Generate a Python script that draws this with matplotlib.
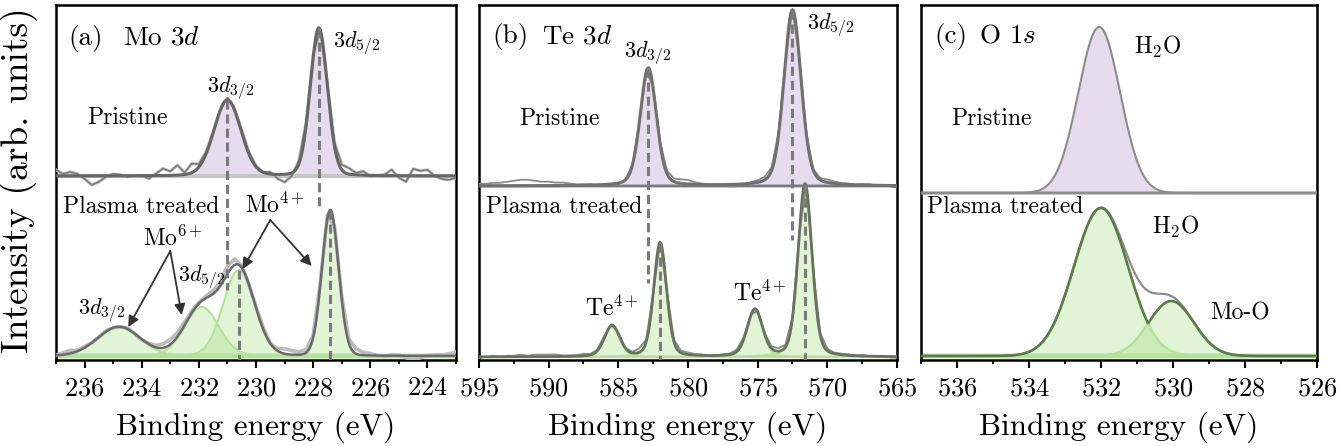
import numpy as np
import matplotlib
matplotlib.use("Agg")
import matplotlib.pyplot as plt
from matplotlib.ticker import MultipleLocator

plt.rcParams['font.family'] = 'serif'
plt.rcParams['font.serif'] = ['cmr10']
plt.rcParams['mathtext.fontset'] = 'cm'
plt.rcParams['axes.formatter.use_mathtext'] = True
plt.rcParams['axes.unicode_minus'] = False

# ---------------- data (peak fits) ----------------
# (a) Mo 3d
mo_xlim = (237, 223)
mo_pris_base = 184
mo_pris_centers = [231.0, 227.8]
mo_pris_heights = [76, 148]
mo_pris_sigmas = [0.47, 0.30]
mo_treat_base = 4
mo_treat_centers = [234.8, 231.9, 230.6, 227.4]
mo_treat_heights = [29, 49, 86, 146]
mo_treat_sigmas = [0.75, 0.60, 0.55, 0.29]
mo_raw_step = 0.25
mo_pris_resid = [6, 2, 4, 2, -3, -9, -6, -1, 2, 1, -1, 0, 0, -3, 2, 7, 4, 10, 2, 9,
                 3, 2, 1, 0, 2, 1, 3, 2, 1, 0, 2, -4, -8, -3, 3, 4, 3, 0, 2, 4,
                 5, 6, 2, 4, -1, 0, 1, 6, -2, -6, 7, 5, 6, 0, -3, -4, -2]
mo_treat_resid = [0, 2, 3, 1, 1, 0, 0, 1, 0, 0, 1, 0, -1, 1, 2, 4, 5, 4, 3, 2,
                  1, 2, 3, 4, 8, 6, 2, 0, 1, 2, 0, 2, 5, 4, 3, 3, 2, 3, 3, 2,
                  3, 4, 5, 3, 2, 0, -1, 1, 1, -2, -4, -2, 0, 1, 1, 2, 4]

# (b) Te 3d
te_xlim = (595, 565)
te_pris_base = 174
te_pris_centers = [582.85, 572.5]
te_pris_heights = [118, 176]
te_pris_sigmas = [0.58, 0.62]
te_treat_base = 3
te_treat_centers = [585.45, 582.0, 575.2, 571.6]
te_treat_heights = [31, 114, 47, 173]
te_treat_sigmas = [0.55, 0.46, 0.55, 0.50]
te_raw_step = 0.5
te_pris_resid = [2, 2, 3, 3, 4, 5, 6, 6, 5, 4, 4, 3, 3, 2, 1, 1, 1, 0, 0, -1,
                 -1, 0, 1, 0, 1, 2, 2, 3, 3, 4, 4, 2, 1, 0, 0, -1, -2, -2, -1, 1,
                 2, 3, 3, 2, 1, 1, 2, 1, 1, 2, 3, 2, 1, 1, 0, 1, 1, 0, 0, -1, -2]
te_treat_resid = [-1, 0, 1, 0, 1, 1, 2, 1, 2, 2, 2, 2, 1, 1, 1, 2, 1, 1, 2, 1,
                  1, 0, 1, 4, 2, 0, 1, 1, 2, 2, 2, 1, 1, 0, 0, 1, 1, 2, 2, 1,
                  1, 1, 2, 3, 2, 1, 1, 2, 1, 2, 2, 1, 1, 1, 0, 1, 0, 0, 0, -1, -1]

# (c) O 1s
o_xlim = (537, 526)
o_pris_base = 167
o_pris_centers = [532.05]
o_pris_heights = [166]
o_pris_sigmas = [0.58]
o_treat_base = 4
o_treat_centers = [532.0, 530.05]
o_treat_heights = [148, 55]
o_treat_sigmas = [0.75, 0.63]

# colours
purple_fill = '#e6dcee'
purple_edge = '#cbb8da'
green_fill = (0.62, 0.86, 0.48, 0.30)
green_edge = '#b6e19c'
dash_col = '#7b7b7b'


def peak(E, c, h, s, eta=0.0):
    g = np.exp(-(E - c) ** 2 / (2 * s ** 2))
    l = 1.0 / (1.0 + ((E - c) / (1.1774 * s)) ** 2)
    return h * ((1 - eta) * g + eta * l)


def components(E, centers, heights, sigmas, eta):
    return [peak(E, c, h, s, eta) for c, h, s in zip(centers, heights, sigmas)]


def draw_comps(ax, E, comps, base, fill, edge, lw=1.5):
    for comp in comps:
        ax.fill_between(E, base, base + comp, color=fill, lw=0, zorder=1)
        ax.plot(E, base + comp, color=edge, lw=lw, zorder=2)


def dash(ax, x, y0, y1, lw=2.2):
    ax.plot([x, x], [y0, y1], color=dash_col, lw=lw, ls=(0, (3, 1.6)), zorder=6)


def style(ax, xlim, major, minor):
    ax.set_xlim(*xlim)
    ax.set_ylim(0, 355)
    ax.set_yticks([])
    ax.xaxis.set_major_locator(MultipleLocator(major))
    ax.xaxis.set_minor_locator(MultipleLocator(minor))
    ax.tick_params(axis='x', which='major', direction='out', length=6, width=1.5,
                   labelsize=19, pad=6)
    ax.tick_params(axis='x', which='minor', direction='out', length=3, width=1.3)
    for sp in ax.spines.values():
        sp.set_linewidth(1.8)
    ax.set_xlabel('Binding energy (eV)', fontsize=22.5, labelpad=8)


fig = plt.figure(figsize=(13.42, 4.46), dpi=100)
H = 446.0
W = 1342.0
bot = (H - 360) / H
hgt = 355 / H
axa = fig.add_axes([56 / W, bot, 400 / W, hgt])
axb = fig.add_axes([479 / W, bot, 418 / W, hgt])
axc = fig.add_axes([921 / W, bot, 396 / W, hgt])

fs = 17
fs_d = 16
fs_p = 19.5

# ---------------- (a) Mo 3d ----------------
ax = axa
E = np.linspace(mo_xlim[0], mo_xlim[1], 1400)
pc = components(E, mo_pris_centers, mo_pris_heights, mo_pris_sigmas, 0.1)
draw_comps(ax, E, pc, mo_pris_base, purple_fill, purple_edge)
ax.plot(E, np.full_like(E, mo_pris_base), color='#c6c6c6', lw=3, zorder=2)
Er = mo_xlim[0] - mo_raw_step * np.arange(len(mo_pris_resid))
raw = mo_pris_base + sum(components(Er, mo_pris_centers, mo_pris_heights, mo_pris_sigmas, 0.1)) + np.array(mo_pris_resid)
ax.plot(Er, raw, color='#bdbdbd', lw=2.2, zorder=3)
ax.plot(Er, raw, color='#7a7a7a', lw=1.1, zorder=3)
ax.plot(E, mo_pris_base + sum(pc), color='#666666', lw=2.2, zorder=4)

tc = components(E, mo_treat_centers, mo_treat_heights, mo_treat_sigmas, 0.05)
draw_comps(ax, E, tc, mo_treat_base, green_fill, green_edge)
ax.plot(E, np.full_like(E, mo_treat_base), color=green_edge, lw=3.5, zorder=2)
rawt = mo_treat_base + sum(components(Er, mo_treat_centers, mo_treat_heights, mo_treat_sigmas, 0.05)) + np.array(mo_treat_resid)
ax.plot(Er, rawt, color='#bcbcbc', lw=2.6, zorder=3)
ax.plot(E, mo_treat_base + sum(tc), color='#6a6a6a', lw=1.8, zorder=4)

dash(ax, mo_pris_centers[0], mo_pris_base + mo_pris_heights[0], 70)
dash(ax, mo_pris_centers[1], mo_pris_base + mo_pris_heights[1], 150)
dash(ax, mo_treat_centers[2], mo_treat_base + mo_treat_heights[2], 0)
dash(ax, mo_treat_centers[3], mo_treat_base + mo_treat_heights[3], 0)

ax.text(236.58, 322, '(a)', fontsize=fs_p, va='center')
ax.text(234.65, 322, r'Mo 3$d$', fontsize=fs_p, va='center')
ax.text(235.91, 242, 'Pristine', fontsize=fs, va='center')
ax.text(230.9, 272, r'3$d_{3/2}$', fontsize=fs_d, va='center', ha='center')
ax.text(227.3, 317, r'3$d_{5/2}$', fontsize=fs_d, va='center')
ax.text(236.75, 153, 'Plasma treated', fontsize=fs, va='center')
ax.text(232.9, 122, r'Mo$^{6+}$', fontsize=fs, va='center', ha='center')
ax.text(229.35, 155, r'Mo$^{4+}$', fontsize=fs, va='center', ha='center')
ax.text(232.72, 83, r'3$d_{5/2}$', fontsize=fs_d, va='center')
ax.text(236.23, 50, r'3$d_{3/2}$', fontsize=fs_d, va='center')
arr = dict(arrowstyle='-|>', color='#333333', lw=1.3, mutation_scale=16, shrinkA=0, shrinkB=0)
for start, target in [((233.0, 109), (234.47, 33)), ((233.0, 109), (232.6, 45)),
                      ((229.5, 140), (230.47, 91)), ((229.5, 140), (228.05, 94))]:
    ax.annotate('', xy=target, xytext=start, arrowprops=arr, zorder=7)
style(ax, mo_xlim, 2, 1)

# ---------------- (b) Te 3d ----------------
ax = axb
E = np.linspace(te_xlim[0], te_xlim[1], 2000)
Er = te_xlim[0] - te_raw_step * np.arange(len(te_pris_resid))
pc = components(E, te_pris_centers, te_pris_heights, te_pris_sigmas, 0.25)
draw_comps(ax, E, pc, te_pris_base, purple_fill, purple_edge)
raw = te_pris_base + sum(components(Er, te_pris_centers, te_pris_heights, te_pris_sigmas, 0.25)) + np.array(te_pris_resid)
ax.plot(Er, raw, color='#8a8a8a', lw=1.3, zorder=3)
ax.plot(E, np.full_like(E, te_pris_base), color='#7a7a7a', lw=2, zorder=3)
ax.plot(E, te_pris_base + sum(pc), color='#707070', lw=2.2, zorder=4)

tc = components(E, te_treat_centers, te_treat_heights, te_treat_sigmas, 0.25)
draw_comps(ax, E, tc, te_treat_base, green_fill, green_edge)
rawt = te_treat_base + sum(components(Er, te_treat_centers, te_treat_heights, te_treat_sigmas, 0.25)) + np.array(te_treat_resid)
ax.plot(Er, rawt, color='#8a9180', lw=1.4, zorder=3)
ax.plot(E, te_treat_base + sum(tc), color='#69725f', lw=2.0, zorder=4)

dash(ax, te_pris_centers[0], te_pris_base + te_pris_heights[0], 77)
dash(ax, te_pris_centers[1], te_pris_base + te_pris_heights[1], 120)
dash(ax, te_treat_centers[1], te_treat_base + te_treat_heights[1], 0)
dash(ax, te_treat_centers[3], te_treat_base + te_treat_heights[3], 0)

ax.text(594.07, 323, '(b)', fontsize=fs_p, va='center')
ax.text(590.48, 323, r'Te 3$d$', fontsize=fs_p, va='center')
ax.text(582.87, 307, r'3$d_{3/2}$', fontsize=fs_d, va='center', ha='center')
ax.text(571.45, 335, r'3$d_{5/2}$', fontsize=fs_d, va='center')
ax.text(592.13, 241, 'Pristine', fontsize=fs, va='center')
ax.text(594.5, 153, 'Plasma treated', fontsize=fs, va='center')
ax.text(585.45, 52, r'Te$^{4+}$', fontsize=fs, va='center', ha='center')
ax.text(574.83, 67, r'Te$^{4+}$', fontsize=fs, va='center', ha='center')
style(ax, te_xlim, 5, 2.5)

# ---------------- (c) O 1s ----------------
ax = axc
E = np.linspace(o_xlim[0], o_xlim[1], 1200)
pc = components(E, o_pris_centers, o_pris_heights, o_pris_sigmas, 0.0)
draw_comps(ax, E, pc, o_pris_base, purple_fill, '#8c8c8c')
ax.plot(E, np.full_like(E, o_pris_base), color='#8c8c8c', lw=2.2, zorder=3)

tc = components(E, o_treat_centers, o_treat_heights, o_treat_sigmas, 0.0)
draw_comps(ax, E, tc, o_treat_base, green_fill, green_edge, lw=1.8)
ax.plot(E, np.full_like(E, o_treat_base), color=green_edge, lw=3.5, zorder=2)
ax.plot(E, o_treat_base + sum(tc), color='#8c8c8c', lw=1.6, zorder=4)
ax.plot(E, o_treat_base + np.maximum(tc[0], tc[1]), color='#5c7a4a', lw=1.8, zorder=4)

ax.text(536.64, 324, '(c)', fontsize=fs_p, va='center')
ax.text(535.39, 324, r'O 1$s$', fontsize=fs_p, va='center')
ax.text(531.07, 313, r'H$_2$O', fontsize=fs, va='center')
ax.text(536.17, 241, 'Pristine', fontsize=fs, va='center')
ax.text(536.84, 153, 'Plasma treated', fontsize=fs, va='center')
ax.text(530.57, 133, r'H$_2$O', fontsize=fs, va='center')
ax.text(528.98, 47, 'Mo-O', fontsize=fs, va='center')
style(ax, o_xlim, 2, 1)

fig.text(0.014, (H - 180) / H, 'Intensity (arb. units)', rotation=90,
         fontsize=27, va='center', ha='center')

fig.savefig('out.png', dpi=100)
